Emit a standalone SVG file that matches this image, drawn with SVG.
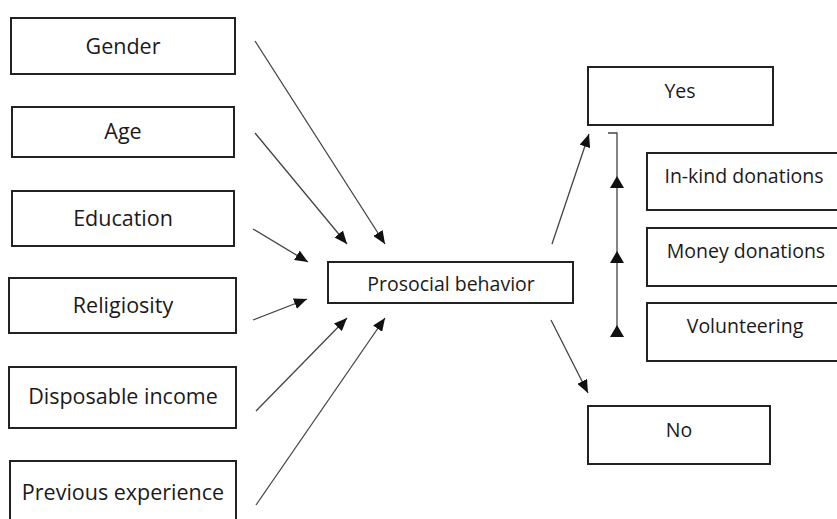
<svg xmlns="http://www.w3.org/2000/svg" width="837" height="519" viewBox="0 0 837 519">
<defs>
<style>
.box{fill:#fff;stroke:#222;stroke-width:2}
.t{font-family:"Open Sans","Noto Sans",sans-serif;font-size:19.5px;fill:#1a1a1a;text-anchor:middle}
.l{font-size:21.5px}
.c{stroke:#444;stroke-width:1.3;fill:none}
.ah{fill:#111}
</style>
<marker id="arr" viewBox="0 0 13 11" refX="13" refY="5.5" markerWidth="13" markerHeight="11" markerUnits="userSpaceOnUse" orient="auto">
<path d="M0,0 L13,5.5 L0,11 Z" fill="#111"/>
</marker>
</defs>
<rect width="837" height="519" fill="#fff"/>
<g id="gender"><rect class="box" x="11" y="18" width="224" height="56"/><text class="t l" x="123" y="54">Gender</text></g>
<g id="age"><rect class="box" x="12" y="107" width="222" height="50"/><text class="t l" x="123" y="139">Age</text></g>
<g id="education"><rect class="box" x="12" y="191" width="222" height="55"/><text class="t l" x="123" y="226">Education</text></g>
<g id="religiosity"><rect class="box" x="9" y="278" width="227" height="55"/><text class="t l" x="123" y="313">Religiosity</text></g>
<g id="disposable"><rect class="box" x="9" y="367" width="227" height="61"/><text class="t l" x="123" y="404">Disposable income</text></g>
<g id="previous"><rect class="box" x="10" y="461" width="226" height="70"/><text class="t l" x="123" y="500">Previous experience</text></g>
<g id="prosocial"><rect class="box" x="328" y="262" width="245" height="41"/><text class="t" x="451" y="291">Prosocial behavior</text></g>
<g id="yes"><rect class="box" x="588" y="67" width="185" height="58"/><text class="t" x="680" y="98">Yes</text></g>
<g id="inkind"><rect class="box" x="647" y="153" width="200" height="57"/><text class="t" x="744" y="183">In-kind donations</text></g>
<g id="money"><rect class="box" x="647" y="228" width="200" height="58"/><text class="t" x="746" y="258">Money donations</text></g>
<g id="volunteering"><rect class="box" x="647" y="303" width="200" height="58"/><text class="t" x="745" y="333">Volunteering</text></g>
<g id="no"><rect class="box" x="588" y="406" width="182" height="58"/><text class="t" x="679" y="437">No</text></g>
<g id="connectors">
<line class="c" x1="255" y1="41" x2="385" y2="244" marker-end="url(#arr)"/>
<line class="c" x1="255" y1="133" x2="347" y2="244" marker-end="url(#arr)"/>
<line class="c" x1="253" y1="229" x2="308" y2="262" marker-end="url(#arr)"/>
<line class="c" x1="253" y1="320" x2="307" y2="299" marker-end="url(#arr)"/>
<line class="c" x1="256" y1="411" x2="347" y2="318" marker-end="url(#arr)"/>
<line class="c" x1="256" y1="505" x2="385" y2="318" marker-end="url(#arr)"/>
<line class="c" x1="552" y1="244" x2="589" y2="134" marker-end="url(#arr)"/>
<line class="c" x1="551" y1="320" x2="588" y2="393" marker-end="url(#arr)"/>
<polyline class="c" points="608,133 617,133 617,337"/>
<path class="ah" d="M617,176 L624,188 L610,188 Z"/>
<path class="ah" d="M617,251 L624,263 L610,263 Z"/>
<path class="ah" d="M617,325 L624,337 L610,337 Z"/>
</g>
</svg>
